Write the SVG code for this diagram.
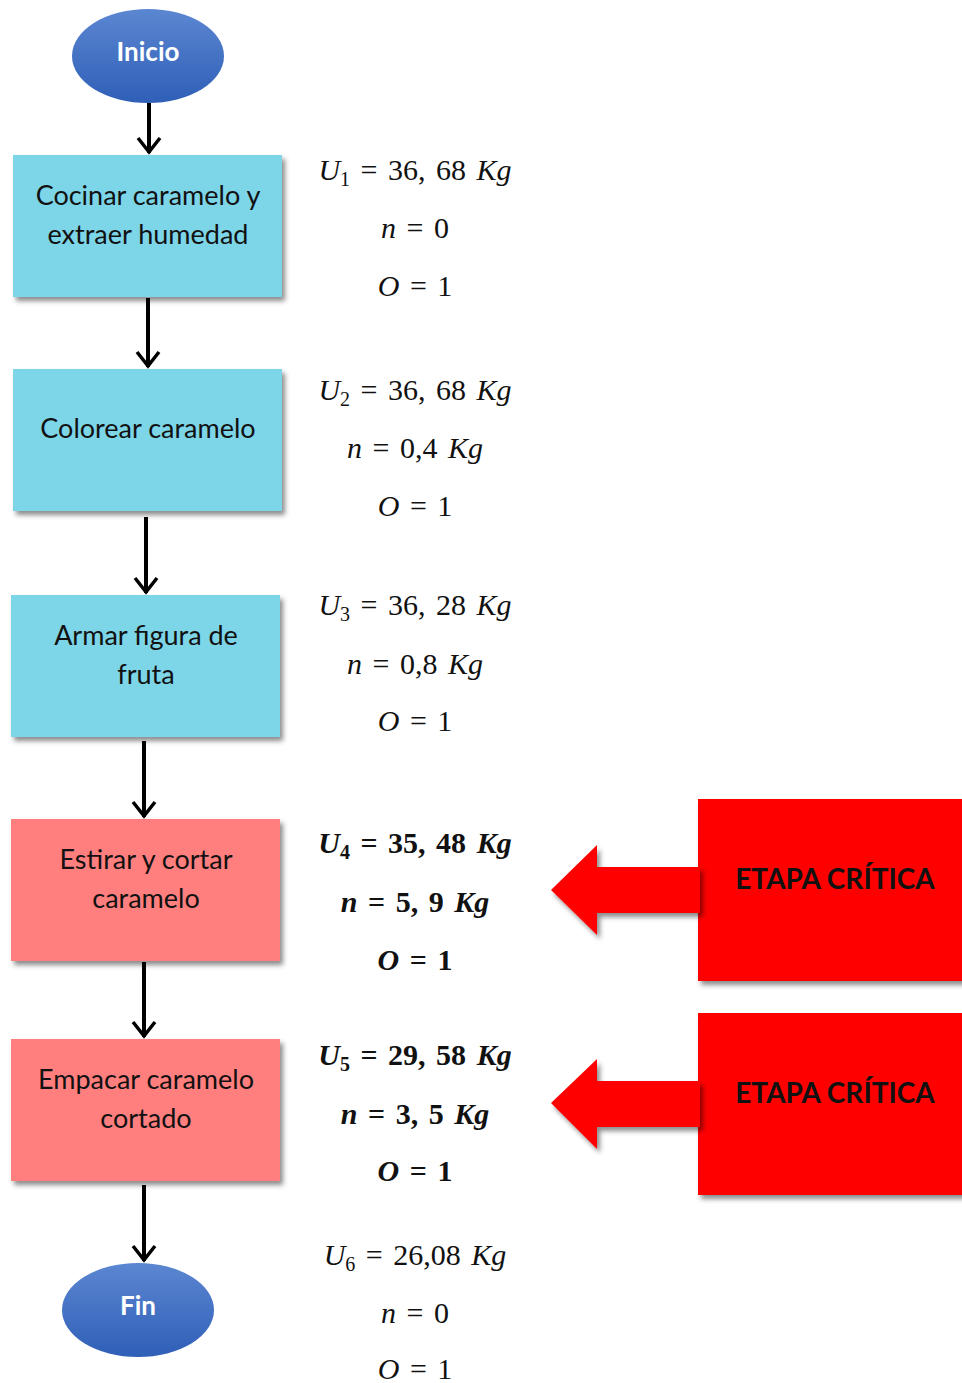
<svg xmlns="http://www.w3.org/2000/svg" width="962" height="1383" viewBox="0 0 962 1383">
<defs>
<linearGradient id="blue" x1="0" y1="0" x2="0" y2="1">
<stop offset="0" stop-color="#5b86d1"/>
<stop offset="1" stop-color="#2f5fb7"/>
</linearGradient>
<filter id="sh" x="-10%" y="-10%" width="125%" height="130%">
<feDropShadow dx="3" dy="4" stdDeviation="2.5" flood-color="#000" flood-opacity="0.45"/>
</filter>
<marker id="ah" markerWidth="20" markerHeight="26" viewBox="0 0 20 26" refX="18" refY="13" orient="auto" markerUnits="userSpaceOnUse">
<path d="M3,2 L17,13 L3,24" fill="none" stroke="#000" stroke-width="3.5"/>
</marker>
<style>
.blue{fill:#7dd5e8;filter:url(#sh)}
.pink{fill:#ff7f7f;filter:url(#sh)}
.red{fill:#ff0000;filter:url(#sh)}
.lbl{font-family:"Lato","Open Sans",sans-serif;font-size:27px;fill:#111;text-anchor:middle}
.oval{font-family:"Lato","Open Sans",sans-serif;font-size:26px;font-weight:bold;fill:#fff;text-anchor:middle}
.crit{font-family:"Lato","Open Sans",sans-serif;font-size:28px;font-weight:bold;fill:#111;text-anchor:middle}
.m{font-family:"Liberation Serif","DejaVu Serif",serif;font-size:30px;fill:#111;text-anchor:middle;word-spacing:3px}
.mb{font-weight:bold}
.i{font-style:italic}
.sub{font-size:20px}
.con{stroke:#000;stroke-width:4;fill:none}
</style>
</defs>
<rect width="962" height="1383" fill="#fff"/>

<g id="connectors">
<line class="con" x1="149" y1="103" x2="149" y2="153" marker-end="url(#ah)"/>
<line class="con" x1="148" y1="298" x2="148" y2="367" marker-end="url(#ah)"/>
<line class="con" x1="146" y1="517" x2="146" y2="593" marker-end="url(#ah)"/>
<line class="con" x1="144" y1="741" x2="144" y2="817" marker-end="url(#ah)"/>
<line class="con" x1="144" y1="962" x2="144" y2="1037" marker-end="url(#ah)"/>
<line class="con" x1="144" y1="1185" x2="144" y2="1261" marker-end="url(#ah)"/>
</g>

<g id="inicio">
<ellipse cx="148" cy="56" rx="76" ry="47" fill="url(#blue)"/>
<text class="oval" x="148" y="61">Inicio</text>
</g>

<g id="paso1">
<rect class="blue" x="13" y="155" width="269" height="142"/>
<text class="lbl" x="148" y="205">Cocinar caramelo y</text>
<text class="lbl" x="148" y="244">extraer humedad</text>
</g>

<g id="paso2">
<rect class="blue" x="13" y="369" width="269" height="142"/>
<text class="lbl" x="148" y="438">Colorear caramelo</text>
</g>

<g id="paso3">
<rect class="blue" x="11" y="595" width="269" height="142"/>
<text class="lbl" x="146" y="645">Armar figura de</text>
<text class="lbl" x="146" y="684">fruta</text>
</g>

<g id="paso4">
<rect class="pink" x="11" y="819" width="269" height="142"/>
<text class="lbl" x="146" y="869">Estirar y cortar</text>
<text class="lbl" x="146" y="908">caramelo</text>
</g>

<g id="paso5">
<rect class="pink" x="11" y="1039" width="269" height="142"/>
<text class="lbl" x="146" y="1089">Empacar caramelo</text>
<text class="lbl" x="146" y="1128">cortado</text>
</g>

<g id="fin">
<ellipse cx="138" cy="1310" rx="76" ry="47" fill="url(#blue)"/>
<text class="oval" x="138" y="1315">Fin</text>
</g>

<g id="critica1">
<rect class="red" x="698" y="799" width="270" height="182"/>
<polygon class="red" points="551,890 597,845 597,867 700,867 700,913 597,913 597,935"/>
<text class="crit" x="835" y="889">ETAPA CRÍTICA</text>
</g>

<g id="critica2">
<rect class="red" x="698" y="1013" width="270" height="182"/>
<polygon class="red" points="551,1103 597,1059 597,1081 700,1081 700,1127 597,1127 597,1149"/>
<text class="crit" x="835" y="1103">ETAPA CRÍTICA</text>
</g>

<g id="eq1">
<text class="m" x="415" y="180"><tspan class="i">U</tspan><tspan class="sub" dy="6">1</tspan><tspan dy="-6"> = 36, 68 </tspan><tspan class="i">Kg</tspan></text>
<text class="m" x="415" y="238"><tspan class="i">n</tspan> = 0</text>
<text class="m" x="415" y="296"><tspan class="i">O</tspan> = 1</text>
</g>

<g id="eq2">
<text class="m" x="415" y="400"><tspan class="i">U</tspan><tspan class="sub" dy="6">2</tspan><tspan dy="-6"> = 36, 68 </tspan><tspan class="i">Kg</tspan></text>
<text class="m" x="415" y="458"><tspan class="i">n</tspan> = 0,4 <tspan class="i">Kg</tspan></text>
<text class="m" x="415" y="516"><tspan class="i">O</tspan> = 1</text>
</g>

<g id="eq3">
<text class="m" x="415" y="615"><tspan class="i">U</tspan><tspan class="sub" dy="6">3</tspan><tspan dy="-6"> = 36, 28 </tspan><tspan class="i">Kg</tspan></text>
<text class="m" x="415" y="674"><tspan class="i">n</tspan> = 0,8 <tspan class="i">Kg</tspan></text>
<text class="m" x="415" y="731"><tspan class="i">O</tspan> = 1</text>
</g>

<g id="eq4">
<text class="m mb" x="415" y="853"><tspan class="i">U</tspan><tspan class="sub" dy="6">4</tspan><tspan dy="-6"> = 35, 48 </tspan><tspan class="i">Kg</tspan></text>
<text class="m mb" x="415" y="912"><tspan class="i">n</tspan> = 5, 9 <tspan class="i">Kg</tspan></text>
<text class="m mb" x="415" y="970"><tspan class="i">O</tspan> = 1</text>
</g>

<g id="eq5">
<text class="m mb" x="415" y="1065"><tspan class="i">U</tspan><tspan class="sub" dy="6">5</tspan><tspan dy="-6"> = 29, 58 </tspan><tspan class="i">Kg</tspan></text>
<text class="m mb" x="415" y="1124"><tspan class="i">n</tspan> = 3, 5 <tspan class="i">Kg</tspan></text>
<text class="m mb" x="415" y="1181"><tspan class="i">O</tspan> = 1</text>
</g>

<g id="eq6">
<text class="m" x="415" y="1265"><tspan class="i">U</tspan><tspan class="sub" dy="6">6</tspan><tspan dy="-6"> = 26,08 </tspan><tspan class="i">Kg</tspan></text>
<text class="m" x="415" y="1323"><tspan class="i">n</tspan> = 0</text>
<text class="m" x="415" y="1379"><tspan class="i">O</tspan> = 1</text>
</g>
</svg>
